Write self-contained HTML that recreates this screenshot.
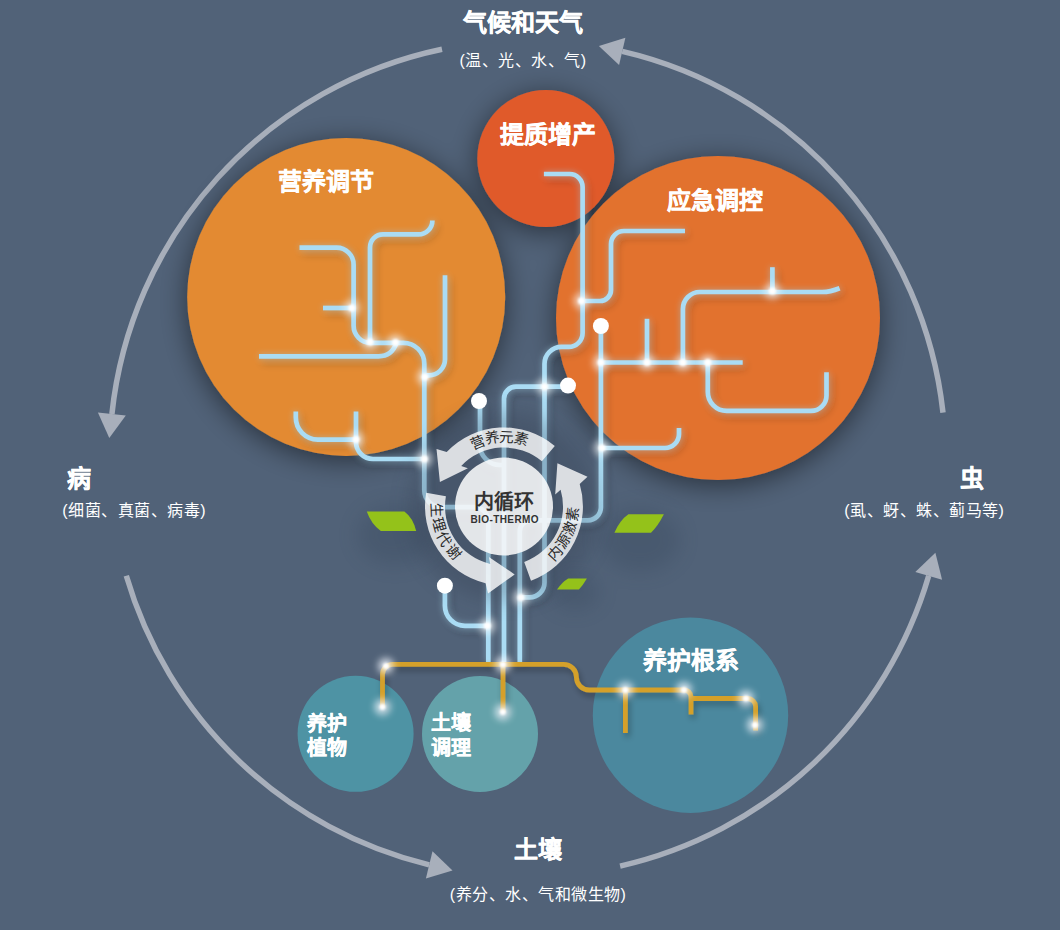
<!DOCTYPE html><html lang="zh-CN"><head><meta charset="utf-8"><style>html,body{margin:0;padding:0;background:#516278;width:1060px;height:930px;overflow:hidden}svg{display:block}text{font-family:"Liberation Sans",sans-serif}</style></head><body>
<svg width="1060" height="930" viewBox="0 0 1060 930">
<defs>
<filter id="csh" x="-40%" y="-40%" width="180%" height="180%"><feGaussianBlur in="SourceAlpha" stdDeviation="14"/><feOffset dx="0" dy="5"/><feComponentTransfer><feFuncA type="linear" slope="0.5"/></feComponentTransfer><feMerge><feMergeNode/><feMergeNode in="SourceGraphic"/></feMerge></filter>
<filter id="lsh" x="-20%" y="-20%" width="140%" height="140%"><feGaussianBlur in="SourceAlpha" stdDeviation="4"/><feOffset dx="3" dy="4" result="o"/><feComponentTransfer in="o" result="sh"><feFuncA type="linear" slope="0.3"/></feComponentTransfer><feGaussianBlur in="SourceGraphic" stdDeviation="3" result="g"/><feComponentTransfer in="g" result="gl"><feFuncA type="linear" slope="0.45"/></feComponentTransfer><feMerge><feMergeNode in="sh"/><feMergeNode in="gl"/><feMergeNode in="SourceGraphic"/></feMerge></filter>
<filter id="gsh" x="-20%" y="-20%" width="140%" height="140%"><feGaussianBlur in="SourceAlpha" stdDeviation="3"/><feOffset dx="2" dy="4" result="o"/><feComponentTransfer in="o" result="sh"><feFuncA type="linear" slope="0.3"/></feComponentTransfer><feMerge><feMergeNode in="sh"/><feMergeNode in="SourceGraphic"/></feMerge></filter>
<filter id="glow" x="-100%" y="-100%" width="300%" height="300%"><feGaussianBlur stdDeviation="3.5"/></filter><filter id="glow2" x="-100%" y="-100%" width="300%" height="300%"><feGaussianBlur stdDeviation="0.8"/></filter>
<filter id="rsh" x="-50%" y="-50%" width="200%" height="200%"><feGaussianBlur stdDeviation="10"/></filter>
</defs>
<rect width="1060" height="930" fill="#516278"/>
<path d="M 442.0 49.3 A 418.0 418.0 0 0 0 111.9 414.1" fill="none" stroke="#a8afbb" stroke-width="5.5"/>
<polygon points="97.9,412.6 109.3,437.9 125.8,415.6" fill="#a8afbb"/>
<path d="M 943.0 412.6 A 418.0 418.0 0 0 0 622.2 51.4" fill="none" stroke="#a8afbb" stroke-width="5.5"/>
<polygon points="625.4,37.7 598.9,45.9 619.1,65.0" fill="#a8afbb"/>
<path d="M 126.3 575.8 A 418.0 418.0 0 0 0 429.2 864.8" fill="none" stroke="#a8afbb" stroke-width="5.5"/>
<polygon points="425.9,878.4 452.5,870.4 432.5,851.2" fill="#a8afbb"/>
<path d="M 620.1 866.1 A 418.0 418.0 0 0 0 928.7 575.8" fill="none" stroke="#a8afbb" stroke-width="5.5"/>
<polygon points="942.1,579.7 935.4,552.8 915.3,571.9" fill="#a8afbb"/>
<g filter="url(#csh)">
<circle cx="346.2" cy="296.9" r="159.0" fill="#e38a30"/>
<circle cx="545.8" cy="158.5" r="68.5" fill="#e05a2b"/>
<circle cx="718.0" cy="318.0" r="162.0" fill="#e2722f"/>
</g>
<circle cx="355.6" cy="733.8" r="58.0" fill="#4e93a4"/>
<circle cx="480.0" cy="734.0" r="58.0" fill="#64a2aa"/>
<circle cx="690.5" cy="715.3" r="97.7" fill="#4b889e"/>
<text x="326.0" y="190.0" font-size="24" font-weight="bold" fill="#fff" text-anchor="middle" letter-spacing="0.00" stroke="#fff" stroke-width="0.35">营养调节</text>
<text x="547.7" y="143.0" font-size="24" font-weight="bold" fill="#fff" text-anchor="middle" letter-spacing="0.00" stroke="#fff" stroke-width="0.35">提质增产</text>
<text x="715.0" y="208.5" font-size="24" font-weight="bold" fill="#fff" text-anchor="middle" letter-spacing="0.00" stroke="#fff" stroke-width="0.35">应急调控</text>
<text x="691.0" y="669.3" font-size="24" font-weight="bold" fill="#fff" text-anchor="middle" letter-spacing="0.00" stroke="#fff" stroke-width="0.35">养护根系</text>
<text x="307.0" y="730.5" font-size="20" font-weight="bold" fill="#fff" text-anchor="start" letter-spacing="0.00" stroke="#fff" stroke-width="0.35">养护</text>
<text x="307.0" y="755.0" font-size="20" font-weight="bold" fill="#fff" text-anchor="start" letter-spacing="0.00" stroke="#fff" stroke-width="0.35">植物</text>
<text x="431.0" y="730.3" font-size="20" font-weight="bold" fill="#fff" text-anchor="start" letter-spacing="0.00" stroke="#fff" stroke-width="0.35">土壤</text>
<text x="431.0" y="754.8" font-size="20" font-weight="bold" fill="#fff" text-anchor="start" letter-spacing="0.00" stroke="#fff" stroke-width="0.35">调理</text>
<text x="523.0" y="31.0" font-size="24" font-weight="bold" fill="#fff" text-anchor="middle" letter-spacing="0.00" stroke="#fff" stroke-width="0.35">气候和天气</text>
<text x="523.0" y="66.0" font-size="16" font-weight="normal" fill="#fff" text-anchor="middle" letter-spacing="0.50">(温、光、水、气)</text>
<text x="66.5" y="486.6" font-size="24" font-weight="bold" fill="#fff" text-anchor="start" letter-spacing="0.00" stroke="#fff" stroke-width="0.35">病</text>
<text x="134.2" y="515.8" font-size="16" font-weight="normal" fill="#fff" text-anchor="middle" letter-spacing="0.50">(细菌、真菌、病毒)</text>
<text x="972.0" y="486.6" font-size="24" font-weight="bold" fill="#fff" text-anchor="middle" letter-spacing="0.00" stroke="#fff" stroke-width="0.35">虫</text>
<text x="924.3" y="515.8" font-size="16" font-weight="normal" fill="#fff" text-anchor="middle" letter-spacing="0.50">(虱、蚜、蛛、蓟马等)</text>
<text x="538.4" y="858.0" font-size="24" font-weight="bold" fill="#fff" text-anchor="middle" letter-spacing="0.00" stroke="#fff" stroke-width="0.35">土壤</text>
<text x="538.0" y="899.6" font-size="16" font-weight="normal" fill="#fff" text-anchor="middle" letter-spacing="0.50">(养分、水、气和微生物)</text>
<g fill="none" stroke="#aadcf4" stroke-width="4.7" filter="url(#lsh)">
<path d="M 299.5 247.7 L 336.6 247.7 A 17.0 17.0 0 0 1 353.6 264.7 L 353.6 325.8 A 17.0 17.0 0 0 0 370.6 342.8 L 403.3 342.8 A 21.0 21.0 0 0 1 424.3 363.8 L 424.3 490.2 A 17.0 17.0 0 0 0 441.3 507.2 L 474.3 507.2 A 14.0 14.0 0 0 1 488.3 521.2 L 488.3 662.0"/>
<path d="M 323.0 308.0 L 353.6 308.0"/>
<path d="M 432.4 220.4 L 432.4 220.4 A 14.0 14.0 0 0 1 418.4 234.4 L 383.0 234.4 A 13.0 13.0 0 0 0 370.0 247.4 L 370.0 342.8"/>
<path d="M 259 356.3 L 378.5 356.3 Q 392 356.3 396.5 342.8"/>
<path d="M 445.0 275.3 L 445.0 359.3 A 16.0 16.0 0 0 1 429.0 375.3 L 424.3 375.3"/>
<path d="M 295.8 411.6 L 295.8 417.6 A 22.0 22.0 0 0 0 317.8 439.6 L 356.0 439.6"/>
<path d="M 356.0 411.6 L 356.0 442.0 A 17.0 17.0 0 0 0 373.0 459.0 L 424.3 459.0"/>
<path d="M 543.9 174.0 L 569.6 174.0 A 13.0 13.0 0 0 1 582.6 187.0 L 582.6 332.9 A 14.0 14.0 0 0 1 568.6 346.9 L 561.5 346.9 A 17.0 17.0 0 0 0 544.5 363.9 L 544.5 582.4 A 15.0 15.0 0 0 1 529.5 597.4 L 519.8 597.4"/>
<path d="M 582.6 301.0 L 600.0 301.0 A 11.0 11.0 0 0 0 611.0 290.0 L 611.0 244.0 A 13.0 13.0 0 0 1 624.0 231.0 L 685.0 231.0"/>
<path d="M 480.0 401.0 L 480.0 445.0 A 20.0 20.0 0 0 0 500.0 465.0 L 504.0 465.0"/>
<path d="M 568.0 386.7 L 516.0 386.7 A 12.0 12.0 0 0 0 504.0 398.7 L 504.0 662.0"/>
<path d="M 600.9 326.0 L 600.9 507.3 A 13.0 13.0 0 0 1 587.9 520.3 L 530.8 520.3 A 11.0 11.0 0 0 0 519.8 531.3 L 519.8 662.0"/>
<path d="M 600.9 362.5 L 742.7 362.5"/>
<path d="M 647.0 318.8 L 647.0 362.5"/>
<path d="M 682.9 362.5 L 682.9 309.0 A 17.0 17.0 0 0 1 699.9 292.0 L 822.4 292.0 Q 830 292 839.6 288.2"/>
<path d="M 772.4 267.2 L 772.4 292.0"/>
<path d="M 707.8 362.5 L 707.8 391.9 A 19.0 19.0 0 0 0 726.8 410.9 L 811.0 410.9 A 15.5 15.5 0 0 0 826.5 395.4 L 826.5 372.3"/>
<path d="M 600.9 448.0 L 665.0 448.0 A 14.0 14.0 0 0 0 679.0 434.0 L 679.0 428.0"/>
<path d="M 444.9 585.7 L 444.9 605.8 A 20.0 20.0 0 0 0 464.9 625.8 L 488.3 625.8"/>
</g>
<g fill="none" stroke="#d4a02a" stroke-width="4.8" filter="url(#gsh)">
<path d="M 382.5 707.4 L 382.5 674.3 A 10.0 10.0 0 0 1 392.5 664.3 L 563.6 664.3 A 12.8 12.8 0 0 1 576.4 677.1 L 576.4 677.2 A 12.8 12.8 0 0 0 589.2 690.0 L 684.0 690.0 A 7.0 7.0 0 0 1 691.0 697.0 L 691.0 714.6"/>
<path d="M 691.0 698.5 L 747.6 698.5 A 8.0 8.0 0 0 1 755.6 706.5 L 755.6 730.5"/>
<path d="M 625.4 690.0 L 625.4 733.0"/>
<path d="M 503.0 664.3 L 503.0 712.3"/>
</g>
<circle cx="504" cy="506.5" r="95" fill="#2a3547" opacity="0.25" filter="url(#rsh)"/>
<g fill="#2c3a50" opacity="0.22" filter="url(#rsh)"><ellipse cx="395" cy="535" rx="38" ry="30"/><ellipse cx="640" cy="540" rx="40" ry="32"/><ellipse cx="575" cy="592" rx="24" ry="18"/></g>
<g fill="#94c21a">
<path d="M 366.8 511.6 L 404.4 511.6 Q 413 518 416.2 531 L 380.8 531 Q 371 524 366.8 511.6 Z"/>
<path d="M 628.4 514.3 L 663.9 514.3 Q 658 526 651 532.8 L 614.4 532.8 Q 620 520 628.4 514.3 Z"/>
<path d="M 568.2 578.4 L 586.9 578.4 Q 583 585 578.9 589.6 L 557 589.6 Q 562 582 568.2 578.4 Z"/>
</g>
<g fill="#ffffff" opacity="0.8">
<path d="M 554.8 446.0 A 79 79 0 0 0 446.7 452.1 L 436.5 449.1 L 439.9 481.9 L 467.9 468.2 L 461.2 465.9 A 59 59 0 0 1 541.9 461.3 Z"/>
<path d="M 426.2 492.8 A 79 79 0 0 0 485.6 583.3 L 488.0 593.6 L 514.7 574.4 L 488.9 556.9 L 490.2 563.9 A 59 59 0 0 1 445.9 496.3 Z"/>
<path d="M 531.0 580.7 A 79 79 0 0 0 579.7 484.1 L 587.5 476.8 L 557.4 463.3 L 555.2 494.4 L 560.6 489.7 A 59 59 0 0 1 524.2 561.9 Z"/>
</g>
<circle cx="504" cy="506.5" r="49" fill="#fff" opacity="0.85"/>
<text x="477.5" y="442.3" font-size="14.5" font-weight="500" fill="#2a2a2a" text-anchor="middle" dominant-baseline="central" transform="rotate(337.6 477.5 442.3)">营</text>
<text x="491.8" y="438.1" font-size="14.5" font-weight="500" fill="#2a2a2a" text-anchor="middle" dominant-baseline="central" transform="rotate(349.9 491.8 438.1)">养</text>
<text x="506.6" y="437.0" font-size="14.5" font-weight="500" fill="#2a2a2a" text-anchor="middle" dominant-baseline="central" transform="rotate(362.1 506.6 437.0)">元</text>
<text x="521.3" y="439.2" font-size="14.5" font-weight="500" fill="#2a2a2a" text-anchor="middle" dominant-baseline="central" transform="rotate(374.4 521.3 439.2)">素</text>
<text x="436.1" y="509.5" font-size="14.5" font-weight="500" fill="#2a2a2a" text-anchor="middle" dominant-baseline="central" transform="rotate(87.5 436.1 509.5)">生</text>
<text x="438.5" y="524.7" font-size="14.5" font-weight="500" fill="#2a2a2a" text-anchor="middle" dominant-baseline="central" transform="rotate(74.5 438.5 524.7)">理</text>
<text x="444.2" y="538.9" font-size="14.5" font-weight="500" fill="#2a2a2a" text-anchor="middle" dominant-baseline="central" transform="rotate(61.5 444.2 538.9)">代</text>
<text x="453.1" y="551.6" font-size="14.5" font-weight="500" fill="#2a2a2a" text-anchor="middle" dominant-baseline="central" transform="rotate(48.5 453.1 551.6)">谢</text>
<text x="554.9" y="553.1" font-size="14.5" font-weight="500" fill="#2a2a2a" text-anchor="middle" dominant-baseline="central" transform="rotate(-47.5 554.9 553.1)">内</text>
<text x="563.5" y="541.5" font-size="14.5" font-weight="500" fill="#2a2a2a" text-anchor="middle" dominant-baseline="central" transform="rotate(-59.5 563.5 541.5)">源</text>
<text x="569.4" y="528.4" font-size="14.5" font-weight="500" fill="#2a2a2a" text-anchor="middle" dominant-baseline="central" transform="rotate(-71.5 569.4 528.4)">激</text>
<text x="572.6" y="514.3" font-size="14.5" font-weight="500" fill="#2a2a2a" text-anchor="middle" dominant-baseline="central" transform="rotate(-83.5 572.6 514.3)">素</text>
<text x="504.0" y="508.5" font-size="20" font-weight="bold" fill="#333" text-anchor="middle" letter-spacing="0.00">内循环</text>
<text x="504.7" y="523.0" font-size="10" font-weight="bold" fill="#333" text-anchor="middle" letter-spacing="0.40">BIO-THERMO</text>
<g>
<circle cx="351.9" cy="307.9" r="8" fill="#fff" opacity="0.6" filter="url(#glow)"/><circle cx="351.9" cy="307.9" r="3.5" fill="#fff" filter="url(#glow2)"/>
<circle cx="370.0" cy="341.9" r="8" fill="#fff" opacity="0.6" filter="url(#glow)"/><circle cx="370.0" cy="341.9" r="3.5" fill="#fff" filter="url(#glow2)"/>
<circle cx="395.5" cy="342.5" r="8" fill="#fff" opacity="0.6" filter="url(#glow)"/><circle cx="395.5" cy="342.5" r="3.5" fill="#fff" filter="url(#glow2)"/>
<circle cx="424.9" cy="377.0" r="8" fill="#fff" opacity="0.6" filter="url(#glow)"/><circle cx="424.9" cy="377.0" r="3.5" fill="#fff" filter="url(#glow2)"/>
<circle cx="356.0" cy="439.6" r="8" fill="#fff" opacity="0.6" filter="url(#glow)"/><circle cx="356.0" cy="439.6" r="3.5" fill="#fff" filter="url(#glow2)"/>
<circle cx="424.4" cy="459.0" r="8" fill="#fff" opacity="0.6" filter="url(#glow)"/><circle cx="424.4" cy="459.0" r="3.5" fill="#fff" filter="url(#glow2)"/>
<circle cx="581.5" cy="300.9" r="8" fill="#fff" opacity="0.6" filter="url(#glow)"/><circle cx="581.5" cy="300.9" r="3.5" fill="#fff" filter="url(#glow2)"/>
<circle cx="544.5" cy="386.7" r="8" fill="#fff" opacity="0.6" filter="url(#glow)"/><circle cx="544.5" cy="386.7" r="3.5" fill="#fff" filter="url(#glow2)"/>
<circle cx="600.9" cy="362.5" r="8" fill="#fff" opacity="0.6" filter="url(#glow)"/><circle cx="600.9" cy="362.5" r="3.5" fill="#fff" filter="url(#glow2)"/>
<circle cx="647.0" cy="362.5" r="8" fill="#fff" opacity="0.6" filter="url(#glow)"/><circle cx="647.0" cy="362.5" r="3.5" fill="#fff" filter="url(#glow2)"/>
<circle cx="682.9" cy="362.5" r="8" fill="#fff" opacity="0.6" filter="url(#glow)"/><circle cx="682.9" cy="362.5" r="3.5" fill="#fff" filter="url(#glow2)"/>
<circle cx="707.8" cy="362.5" r="8" fill="#fff" opacity="0.6" filter="url(#glow)"/><circle cx="707.8" cy="362.5" r="3.5" fill="#fff" filter="url(#glow2)"/>
<circle cx="772.4" cy="291.0" r="8" fill="#fff" opacity="0.6" filter="url(#glow)"/><circle cx="772.4" cy="291.0" r="3.5" fill="#fff" filter="url(#glow2)"/>
<circle cx="602.0" cy="448.0" r="8" fill="#fff" opacity="0.6" filter="url(#glow)"/><circle cx="602.0" cy="448.0" r="3.5" fill="#fff" filter="url(#glow2)"/>
<circle cx="521.0" cy="597.4" r="8" fill="#fff" opacity="0.6" filter="url(#glow)"/><circle cx="521.0" cy="597.4" r="3.5" fill="#fff" filter="url(#glow2)"/>
<circle cx="487.4" cy="625.8" r="8" fill="#fff" opacity="0.6" filter="url(#glow)"/><circle cx="487.4" cy="625.8" r="3.5" fill="#fff" filter="url(#glow2)"/>
<circle cx="503.0" cy="664.5" r="8" fill="#f4f8ff" opacity="0.75" filter="url(#glow)"/><circle cx="503.0" cy="664.5" r="3" fill="#fff" filter="url(#glow2)"/>
<circle cx="386.0" cy="666.0" r="8" fill="#f4f8ff" opacity="0.75" filter="url(#glow)"/><circle cx="386.0" cy="666.0" r="3" fill="#fff" filter="url(#glow2)"/>
<circle cx="382.5" cy="707.0" r="8" fill="#f4f8ff" opacity="0.75" filter="url(#glow)"/><circle cx="382.5" cy="707.0" r="3" fill="#fff" filter="url(#glow2)"/>
<circle cx="502.9" cy="712.0" r="8" fill="#f4f8ff" opacity="0.75" filter="url(#glow)"/><circle cx="502.9" cy="712.0" r="3" fill="#fff" filter="url(#glow2)"/>
<circle cx="625.4" cy="690.0" r="8" fill="#f4f8ff" opacity="0.75" filter="url(#glow)"/><circle cx="625.4" cy="690.0" r="3" fill="#fff" filter="url(#glow2)"/>
<circle cx="684.0" cy="690.0" r="8" fill="#f4f8ff" opacity="0.75" filter="url(#glow)"/><circle cx="684.0" cy="690.0" r="3" fill="#fff" filter="url(#glow2)"/>
<circle cx="746.0" cy="698.5" r="8" fill="#f4f8ff" opacity="0.75" filter="url(#glow)"/><circle cx="746.0" cy="698.5" r="3" fill="#fff" filter="url(#glow2)"/>
<circle cx="755.0" cy="725.0" r="8" fill="#f4f8ff" opacity="0.75" filter="url(#glow)"/><circle cx="755.0" cy="725.0" r="3" fill="#fff" filter="url(#glow2)"/>
</g>
<circle cx="479.0" cy="401.0" r="8" fill="#fff"/>
<circle cx="568.0" cy="385.6" r="8" fill="#fff"/>
<circle cx="600.9" cy="326.0" r="8" fill="#fff"/>
<circle cx="444.9" cy="585.7" r="8" fill="#fff"/>
</svg></body></html>
